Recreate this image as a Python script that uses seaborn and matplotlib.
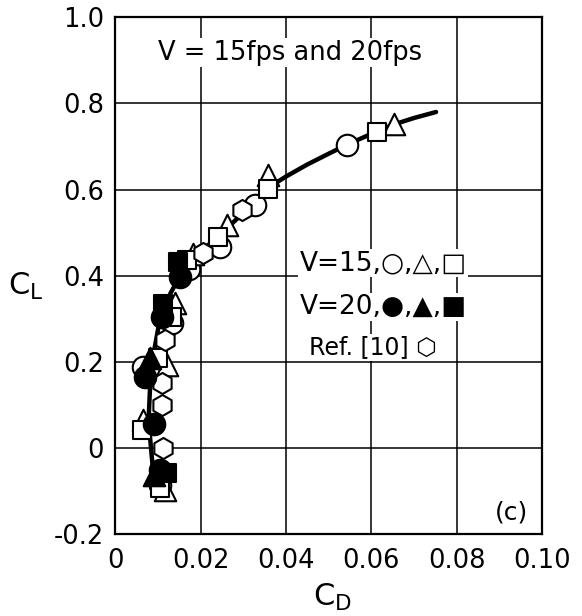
import matplotlib
matplotlib.use("Agg")
import matplotlib.pyplot as plt
import seaborn as sns
import pandas as pd

# ---- data ----
v15_circle_cd = [0.0105, 0.0066, 0.0133, 0.0172, 0.0246, 0.0328, 0.0543]
v15_circle_cl = [-0.085, 0.187, 0.289, 0.416, 0.467, 0.563, 0.704]
v15_tri_cd = [0.0117, 0.0066, 0.0121, 0.0140, 0.0183, 0.0262, 0.0357, 0.0654]
v15_tri_cl = [-0.098, 0.065, 0.192, 0.336, 0.451, 0.517, 0.633, 0.753]
v15_sq_cd = [0.0105, 0.0062, 0.0101, 0.0133, 0.0168, 0.0242, 0.0357, 0.0613]
v15_sq_cl = [-0.092, 0.041, 0.208, 0.304, 0.436, 0.490, 0.602, 0.733]
v20_circle_cd = [0.0105, 0.0092, 0.0070, 0.0109, 0.0152]
v20_circle_cl = [-0.052, 0.055, 0.165, 0.304, 0.398]
v20_tri_cd = [0.0091, 0.0082]
v20_tri_cl = [-0.064, 0.208]
v20_sq_cd = [0.0121, 0.0113, 0.0148]
v20_sq_cl = [-0.059, 0.335, 0.432]
ref10_cd = [0.0113, 0.0109, 0.0109, 0.0117, 0.0205, 0.0297]
ref10_cl = [0.000, 0.100, 0.150, 0.250, 0.452, 0.552]

curve_cd = [0.0090, 0.0082, 0.0078, 0.0082, 0.0090, 0.0105, 0.0130, 0.0155,
            0.0200, 0.0250, 0.0300, 0.0360, 0.0400, 0.0450, 0.0500, 0.0545,
            0.0600, 0.0650, 0.0700, 0.0752]
curve_cl = [-0.068, 0.020, 0.060, 0.150, 0.220, 0.300, 0.360, 0.405,
            0.455, 0.500, 0.545, 0.605, 0.630, 0.658, 0.683, 0.705,
            0.729, 0.750, 0.766, 0.780]

x_ticks = [0, 0.02, 0.04, 0.06, 0.08, 0.10]
x_tick_labels = ["0", "0.02", "0.04", "0.06", "0.08", "0.10"]
y_ticks = [-0.2, 0, 0.2, 0.4, 0.6, 0.8, 1.0]
y_tick_labels = ["-0.2", "0", "0.2", "0.4", "0.6", "0.8", "1.0"]

# ---- figure ----
sns.set_theme(style="white")
plt.rcParams["font.family"] = ["DejaVu Sans"]
plt.rcParams["text.color"] = "black"
plt.rcParams["axes.labelcolor"] = "black"
plt.rcParams["xtick.color"] = "black"
plt.rcParams["ytick.color"] = "black"

fig = plt.figure(figsize=(5.82, 6.16), dpi=100)
ax = fig.add_axes([0.198, 0.133, 0.733, 0.839])

curve_df = pd.DataFrame({"cd": curve_cd, "cl": curve_cl})
sns.lineplot(data=curve_df, x="cd", y="cl", sort=False, estimator=None,
             errorbar=None, color="black", linewidth=3.2, ax=ax, zorder=3)

series = [
    (v15_circle_cd, v15_circle_cl, "o", "white", 240),
    (v15_tri_cd, v15_tri_cl, "^", "white", 240),
    (v15_sq_cd, v15_sq_cl, "s", "white", 160),
    (ref10_cd, ref10_cl, "h", "white", 230),
    (v20_circle_cd, v20_circle_cl, "o", "black", 240),
    (v20_tri_cd, v20_tri_cl, "^", "black", 240),
    (v20_sq_cd, v20_sq_cl, "s", "black", 160),
]
for cd, cl, mk, fc, s in series:
    df = pd.DataFrame({"cd": cd, "cl": cl})
    sns.scatterplot(data=df, x="cd", y="cl", marker=mk, s=s, color=fc,
                    edgecolor="black", linewidth=1.5, ax=ax, zorder=4)

ax.set_xlim(0, 0.10)
ax.set_ylim(-0.2, 1.0)
ax.set_xticks(x_ticks)
ax.set_xticklabels(x_tick_labels)
ax.set_yticks(y_ticks)
ax.set_yticklabels(y_tick_labels)
ax.tick_params(axis="both", length=0, labelsize=18.5, colors="black")
ax.tick_params(axis="x", pad=10)
ax.tick_params(axis="y", pad=8)
ax.grid(True, color="black", linewidth=1.1)
ax.set_axisbelow(True)
for sp in ax.spines.values():
    sp.set_color("black")
    sp.set_linewidth(1.6)
ax.set_xlabel("")
ax.set_ylabel("")

fig.text(0.045, 0.535, r"$\mathrm{C_L}$", fontsize=22, ha="center", va="center")
fig.text(0.572, 0.030, r"$\mathrm{C_D}$", fontsize=22, ha="center", va="center")

box = dict(facecolor="white", edgecolor="none", pad=1)
ax.text(0.041, 0.918, "V = 15fps and 20fps", fontsize=18.5, ha="center",
        va="center", zorder=5, bbox=box)
ax.text(0.0628, 0.429, "V=15,○,△,□", fontsize=19, ha="center", va="center",
        zorder=5, bbox=box)
ax.text(0.0628, 0.327, "V=20,●,▲,■", fontsize=19, ha="center", va="center",
        zorder=5, bbox=box)
ax.text(0.0605, 0.234, "Ref. [10] ⬡", fontsize=17, ha="center", va="center",
        zorder=5, bbox=box)
ax.text(0.093, -0.149, "(c)", fontsize=18, ha="center", va="center", zorder=5)

fig.savefig("out.png", dpi=100, facecolor="white")
